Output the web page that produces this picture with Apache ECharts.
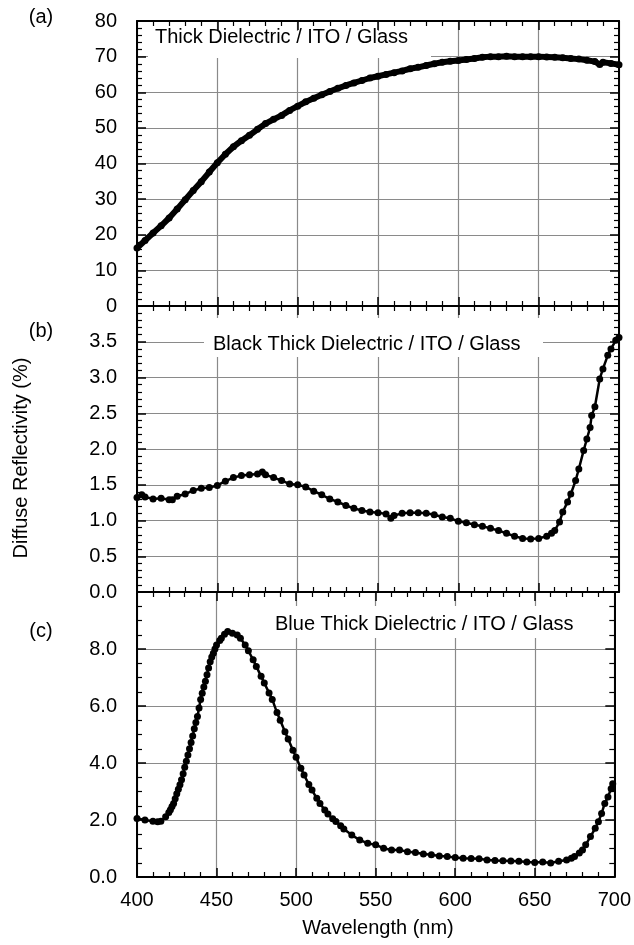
<!DOCTYPE html>
<html>
<head>
<meta charset="utf-8">
<title>Diffuse Reflectivity</title>
<script src="https://cdn.jsdelivr.net/npm/echarts@6/dist/echarts.min.js"></script>
<style>
  html, body { margin: 0; padding: 0; background: #fff; }
  #chart { width: 634px; height: 945px; }
</style>
</head>
<body>
<div id="chart"></div>
<script>
// (a) Thick Dielectric / ITO / Glass
const wlA = [400, 405, 410, 415, 420, 425, 430, 435, 440, 445, 450, 455, 460, 465, 470, 475, 480, 485, 490, 495,
  500, 505, 510, 515, 520, 525, 530, 535, 540, 545, 550, 555, 560, 565, 570, 575, 580, 585, 590, 595,
  600, 605, 610, 615, 620, 625, 630, 635, 640, 645, 650, 655, 660, 665, 670, 675, 680, 685, 688, 690, 695, 700]
const refA = [16.3, 18.4, 20.5, 22.5, 24.7, 27.2, 29.8, 32.4, 34.9, 37.6, 40.2, 42.6, 44.7, 46.4, 47.9, 49.6, 51.2, 52.4, 53.5, 54.9,
  56.1, 57.3, 58.3, 59.3, 60.2, 61.1, 61.9, 62.6, 63.3, 64.0, 64.5, 65.0, 65.5, 66.0, 66.6, 67.0, 67.5, 68.0, 68.4, 68.7,
  68.9, 69.2, 69.5, 69.8, 70.0, 70.0, 70.1, 70.0, 70.0, 70.0, 70.0, 69.9, 69.8, 69.7, 69.5, 69.3, 69.0, 68.6, 67.8, 68.4, 68.1, 67.7]

// (b) Black Thick Dielectric / ITO / Glass
const wlB = [400, 403, 405, 410, 415, 420, 422, 425, 430, 435, 440, 445, 450, 455, 460, 465, 470, 475, 478, 480,
  485, 490, 495, 500, 505, 510, 515, 520, 525, 530, 535, 540, 545, 550, 555, 558, 560, 565, 570, 575,
  580, 585, 590, 595, 600, 605, 610, 615, 620, 625, 630, 635, 640, 645, 650, 655, 658, 660, 663, 665,
  668, 670, 673, 675, 678, 680, 682, 683, 685, 688, 690, 693, 695, 698, 700]
const refB = [1.32, 1.36, 1.33, 1.30, 1.31, 1.29, 1.29, 1.34, 1.37, 1.42, 1.45, 1.46, 1.49, 1.55, 1.60, 1.63, 1.64, 1.65, 1.68, 1.64,
  1.60, 1.56, 1.51, 1.50, 1.47, 1.41, 1.36, 1.30, 1.26, 1.21, 1.17, 1.14, 1.12, 1.11, 1.09, 1.03, 1.07, 1.10, 1.11, 1.11,
  1.10, 1.08, 1.05, 1.03, 0.99, 0.97, 0.94, 0.92, 0.89, 0.86, 0.82, 0.78, 0.75, 0.74, 0.75, 0.78, 0.82, 0.86, 0.98, 1.12,
  1.26, 1.37, 1.56, 1.72, 1.98, 2.14, 2.30, 2.47, 2.59, 2.98, 3.12, 3.31, 3.40, 3.52, 3.56]

// (c) Blue Thick Dielectric / ITO / Glass
const wlC = [400, 405, 410, 413, 415, 418, 420, 421, 422, 423, 424, 425, 426, 427, 428, 429, 430, 431, 432, 433,
  434, 435, 436, 437, 438, 439, 440, 441, 442, 443, 444, 445, 446, 447, 448, 449, 450, 452, 453, 455,
  457, 460, 463, 465, 468, 470, 473, 475, 478, 480, 483, 485, 488, 490, 493, 495, 498, 500, 503, 505,
  508, 510, 513, 515, 518, 520, 523, 525, 528, 530, 535, 540, 545, 550, 555, 560, 565, 570, 575, 580,
  585, 590, 595, 600, 605, 610, 615, 620, 625, 630, 635, 640, 645, 650, 655, 660, 665, 670, 673, 675,
  678, 680, 682, 685, 688, 690, 692, 694, 696, 698, 699]
const refC = [2.05, 2.00, 1.96, 1.94, 1.96, 2.11, 2.26, 2.36, 2.47, 2.58, 2.75, 2.92, 3.08, 3.24, 3.41, 3.62, 3.85, 4.06, 4.28, 4.50,
  4.72, 4.95, 5.20, 5.42, 5.63, 5.93, 6.23, 6.45, 6.67, 6.87, 7.10, 7.33, 7.55, 7.72, 7.85, 8.00, 8.14, 8.30, 8.38, 8.52,
  8.61, 8.55, 8.49, 8.38, 8.14, 7.94, 7.62, 7.39, 7.04, 6.81, 6.46, 6.23, 5.77, 5.50, 5.10, 4.84, 4.45, 4.20, 3.82, 3.58,
  3.25, 3.05, 2.76, 2.58, 2.35, 2.21, 2.04, 1.95, 1.80, 1.68, 1.47, 1.30, 1.18, 1.13, 1.01, 0.95, 0.95, 0.89, 0.86, 0.81,
  0.78, 0.74, 0.72, 0.68, 0.66, 0.65, 0.64, 0.60, 0.58, 0.57, 0.56, 0.55, 0.53, 0.51, 0.53, 0.49, 0.55, 0.60, 0.66, 0.72,
  0.84, 0.95, 1.13, 1.42, 1.71, 1.94, 2.23, 2.58, 2.81, 3.10, 3.27]

// y scales: [max, interval, minor splits]
const yScales = [[80, 10, 5], [4, 0.5, 5], [10, 2, 4]]
const panelNames = ['(a)', '(b)', '(c)']
const panelTitles = ['Thick Dielectric / ITO / Glass', 'Black Thick Dielectric / ITO / Glass', 'Blue Thick Dielectric / ITO / Glass']

const FONT = "'Liberation Sans', Arial, Helvetica, sans-serif"
const FS = 20
const grids = [
  { left: 137, right: 15, top: 21, height: 285 },
  { left: 137, right: 15, top: 306, height: 286 },
  { left: 137, right: 15, top: 592, height: 285 }
]

const frameLine = { onZero: false, lineStyle: { color: '#000', width: 2 } }
const tick = { inside: true, length: 9, lineStyle: { color: '#000', width: 1.5 } }
const gridLine = { show: true, lineStyle: { color: '#8a8a8a', width: 1.2 } }

function minor (n) {
  return { show: true, splitNumber: n, length: 5, lineStyle: { color: '#000', width: 1.2 } }
}

const xAxes = []
const yAxes = []
grids.forEach((g, i) => {
  ['bottom', 'top'].forEach(pos => {
    xAxes.push({
      type: 'value', gridIndex: i, position: pos, min: 400, max: 700, interval: 50,
      axisLine: frameLine, axisTick: tick, minorTick: minor(5),
      splitLine: pos === 'bottom' ? gridLine : { show: false },
      axisLabel: {
        show: pos === 'bottom' && i === 2, margin: 13,
        color: '#000', fontSize: FS, fontFamily: FONT
      }
    })
  })
  const [max, step, splits] = yScales[i]
  ;['left', 'right'].forEach(pos => {
    yAxes.push({
      type: 'value', gridIndex: i, position: pos, min: 0, max: max, interval: step,
      axisLine: frameLine, axisTick: tick, minorTick: minor(splits),
      splitLine: pos === 'left' ? gridLine : { show: false },
      axisLabel: {
        show: pos === 'left', margin: 20, showMaxLabel: i === 0,
        color: '#000', fontSize: FS, fontFamily: FONT,
        formatter: v => i === 0 ? String(v) : v.toFixed(1)
      }
    })
  })
})

function pairs (xs, ys) {
  return xs.map((x, i) => [x, ys[i]])
}

const seriesData = [pairs(wlA, refA), pairs(wlB, refB), pairs(wlC, refC)]
const lineWidths = [6, 2.5, 2.5]
const series = seriesData.map((d, i) => ({
  type: 'line',
  xAxisIndex: i * 2,
  yAxisIndex: i * 2,
  data: d,
  symbol: 'circle',
  symbolSize: 7,
  showAllSymbol: true,
  itemStyle: { color: '#000' },
  lineStyle: { color: '#000', width: lineWidths[i] },
  silent: true
}))

// white boxes behind the panel captions (they hide the grid lines there)
const boxes = [
  { x: 148, y: 31, width: 283, height: 27 },
  { x: 204, y: 318, width: 339, height: 39 },
  { x: 271, y: 606, width: 325, height: 32 }
]
const captionPos = [[155, 37], [213, 344], [275, 624]]
const labelPos = [[41, 17], [41, 331], [41, 631]]

const textStyle = (text, align) => ({ text: text, fill: '#000', font: FS + 'px ' + FONT, align: align, verticalAlign: 'middle' })

const graphic = []
boxes.forEach((b, i) => {
  graphic.push({ type: 'rect', shape: b, style: { fill: '#fff' }, z: 1 })
  graphic.push({ type: 'text', x: captionPos[i][0], y: captionPos[i][1], style: textStyle(panelTitles[i], 'left'), z: 3 })
  graphic.push({ type: 'text', x: labelPos[i][0], y: labelPos[i][1], style: textStyle(panelNames[i], 'center'), z: 3 })
})
graphic.push({ type: 'text', x: 21, y: 458, rotation: Math.PI / 2, style: textStyle('Diffuse Reflectivity (%)', 'center'), z: 3 })
graphic.push({ type: 'text', x: 378, y: 928, style: textStyle('Wavelength (nm)', 'center'), z: 3 })

const chart = echarts.init(document.getElementById('chart'), null, { renderer: 'canvas' })
chart.setOption({
  animation: false,
  backgroundColor: '#fff',
  grid: grids,
  xAxis: xAxes,
  yAxis: yAxes,
  series: series,
  graphic: graphic
})
</script>
</body>
</html>
